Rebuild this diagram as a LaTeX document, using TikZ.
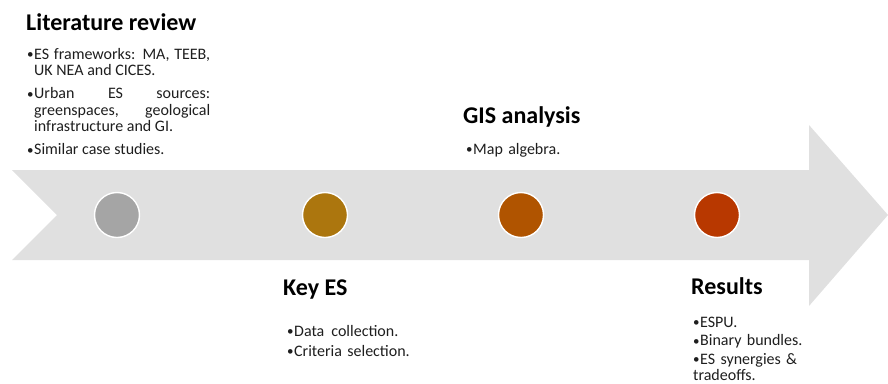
\documentclass[tikz,border=0pt]{standalone}
\usepackage{fontspec}
\setmainfont{Carlito}
\definecolor{bandgrey}{HTML}{E0E0E0}
\definecolor{dotA}{HTML}{A5A5A5}
\definecolor{dotB}{HTML}{AC760E}
\definecolor{dotC}{HTML}{B05400}
\definecolor{dotD}{HTML}{B83800}
\definecolor{bodytext}{HTML}{1E1E1E}
% bullet paragraph with hanging indent and a small bullet
\newcommand{\bitem}[1]{\hangindent=7pt\hangafter=1\noindent
  \makebox[7pt][l]{\raisebox{0.6pt}{\fontsize{13}{13}\selectfont•}}\strut#1\par}
\begin{document}
\begin{tikzpicture}[x=1pt,y=-1pt,
  milestone/.style={circle, draw=white, line width=1.4pt, minimum size=45pt, inner sep=0pt},
  heading/.style={anchor=base west, inner sep=0pt, font=\bfseries\fontsize{24}{28}\selectfont},
  bullets/.style={anchor=north west, inner sep=0pt, text=bodytext,
    font=\fontsize{16}{16.5}\selectfont}]
\useasboundingbox (0,0) rectangle (888,383);

% timeline band with notched tail and arrow head
\fill[bandgrey] (12,170) -- (809,170) -- (809,125) -- (888,215) -- (809,306)
  -- (809,260) -- (12,260) -- (57,215) -- cycle;

% milestones
\node[milestone, fill=dotA] (m1) at (117,215) {};
\node[milestone, fill=dotB] (m2) at (325,215) {};
\node[milestone, fill=dotC] (m3) at (521,215) {};
\node[milestone, fill=dotD] (m4) at (717,215) {};

% stage 1
\node[heading] (h1) at (26,30) {Literature review};
\node[bullets, text width=183pt, align=justify] (b1) at (27,47.5)
  {\bitem{ES frameworks: MA, TEEB,\linebreak UK NEA and CICES.}\vspace{6.5pt}
   \bitem{Urban ES sources:\linebreak greenspaces, geological\linebreak infrastructure and GI.}\vspace{6.5pt}
   \bitem{Similar case studies.}};

% stage 2
\node[heading] (h2) at (283,295) {Key ES};
\node[bullets, text width=150pt, align=left] (b2) at (287,324.5)
  {\bitem{Data\hspace{7pt}collection.}\vspace{3.7pt}
   \bitem{Criteria selection.}};

% stage 3
\node[heading] (h3) at (463,123) {GIS analysis};
\node[bullets, text width=150pt, align=left] (b3) at (466,142.3)
  {\bitem{Map algebra.}};

% stage 4
\node[heading] (h4) at (691,294) {Results};
\node[bullets, text width=150pt, align=left] (b4) at (693,315.5)
  {\bitem{ESPU.}\vspace{2pt}
   \bitem{Binary bundles.}\vspace{2pt}
   \bitem{ES synergies \&\\ tradeoffs.}};
\end{tikzpicture}
\end{document}
